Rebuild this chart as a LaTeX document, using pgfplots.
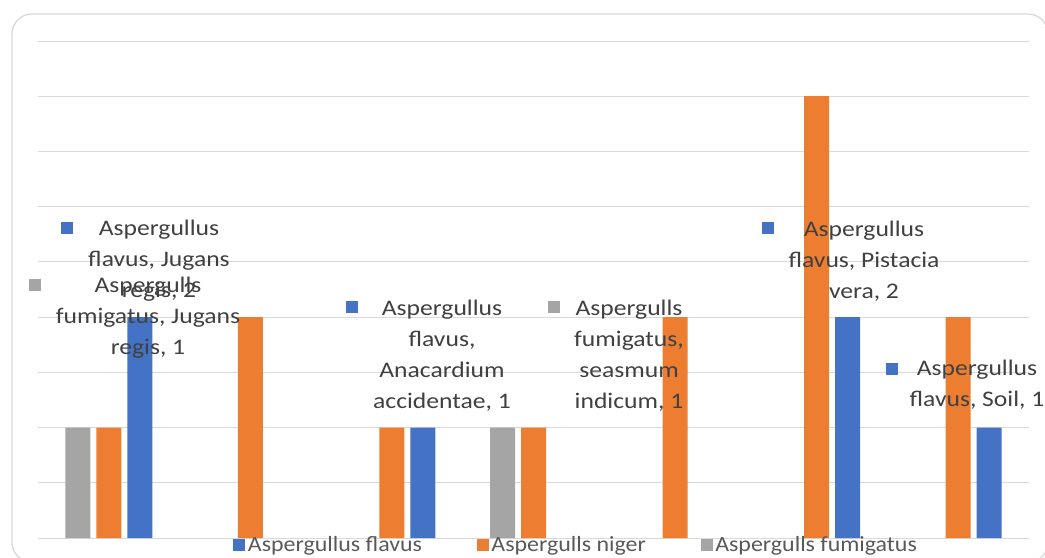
\documentclass[border=0pt]{standalone}
\usepackage{pgfplots}
\pgfplotsset{compat=1.18}
\usepackage{fontspec}
\setmainfont{Carlito}
\newfontfamily\labfont[FakeStretch=1.15]{Carlito}
\newfontfamily\legfont[FakeStretch=1.1]{Carlito}
\definecolor{cblue}{HTML}{4472C4}
\definecolor{corange}{HTML}{ED7D31}
\definecolor{cgray}{HTML}{A5A5A5}
\definecolor{gridc}{HTML}{D9D9D9}
\definecolor{labc}{HTML}{404040}
\definecolor{legc}{HTML}{595959}

\begin{document}
\begin{tikzpicture}
\useasboundingbox (0,0) rectangle (783.75pt,417.75pt);
% chart frame
\draw[gridc, line width=1pt, rounded corners=15pt] (9pt,-4pt) rectangle (786pt,407.25pt);

\begin{axis}[
  at={(28.5pt,14.25pt)}, anchor=south west,
  scale only axis, width=743.25pt, height=372.75pt,
  xmin=-0.5, xmax=6.5, ymin=0, ymax=4.5,
  axis line style={draw=none},
  major tick length=0pt,
  xtick=\empty,
  ytick={0,0.5,1,1.5,2,2.5,3,3.5,4,4.5},
  yticklabels={},
  ymajorgrids,
  grid style={gridc, line width=0.75pt},
  ybar, bar width=18.75pt,
  legend columns=3,
  legend image code/.code={\fill[#1] (0pt,-4.5pt) rectangle (9pt,4.5pt);},
  legend style={draw=none, fill=none, inner sep=0pt,
    at={(0.1968,-0.014)}, anchor=west,
    font=\legfont\fontsize{16.3pt}{18pt}\selectfont, text=legc,
    /tikz/every even column/.append style={column sep=39pt}},
]
\addplot[fill=cblue, draw=none, bar shift=23.25pt]
  coordinates {(0,2) (2,1) (5,2) (6,1)};
\addlegendentry{Aspergullus flavus}
\addplot[fill=corange, draw=none, bar shift=0pt]
  coordinates {(0,1) (1,2) (2,1) (3,1) (4,2) (5,4) (6,2)};
\addlegendentry{Aspergulls niger}
\addplot[fill=cgray, draw=none, bar shift=-23.25pt]
  coordinates {(0,1) (3,1)};
\addlegendentry{Aspergulls fumigatus}
\end{axis}

% data labels (image pixel coordinates)
\begin{scope}[x=0.75pt, y=-0.75pt, yshift=417.75pt,
  lab/.style={font=\labfont\fontsize{16.7pt}{23.25pt}\selectfont,
    align=center, text=labc, inner sep=0pt},
  key/.style={inner sep=0pt, minimum size=9pt}]
  \node[lab] at (159,261) {Aspergullus\\flavus, Jugans\\regis, 2};
  \node[key, fill=cblue] at (67,228) {};
  \node[lab] at (148,318) {Aspergulls\\fumigatus, Jugans\\regis, 1};
  \node[key, fill=cgray] at (35,285) {};
  \node[lab] at (442,356) {Aspergullus\\flavus,\\Anacardium\\accidentae, 1};
  \node[key, fill=cblue] at (352,307) {};
  \node[lab] at (629,356) {Aspergulls\\fumigatus,\\seasmum\\indicum, 1};
  \node[key, fill=cgray] at (554,307) {};
  \node[lab] at (864,261) {Aspergullus\\flavus, Pistacia\\vera, 2};
  \node[key, fill=cblue] at (768,228) {};
  \node[lab] at (977,385) {Aspergullus\\flavus, Soil, 1};
  \node[key, fill=cblue] at (892,369) {};
\end{scope}
\end{tikzpicture}
\end{document}
